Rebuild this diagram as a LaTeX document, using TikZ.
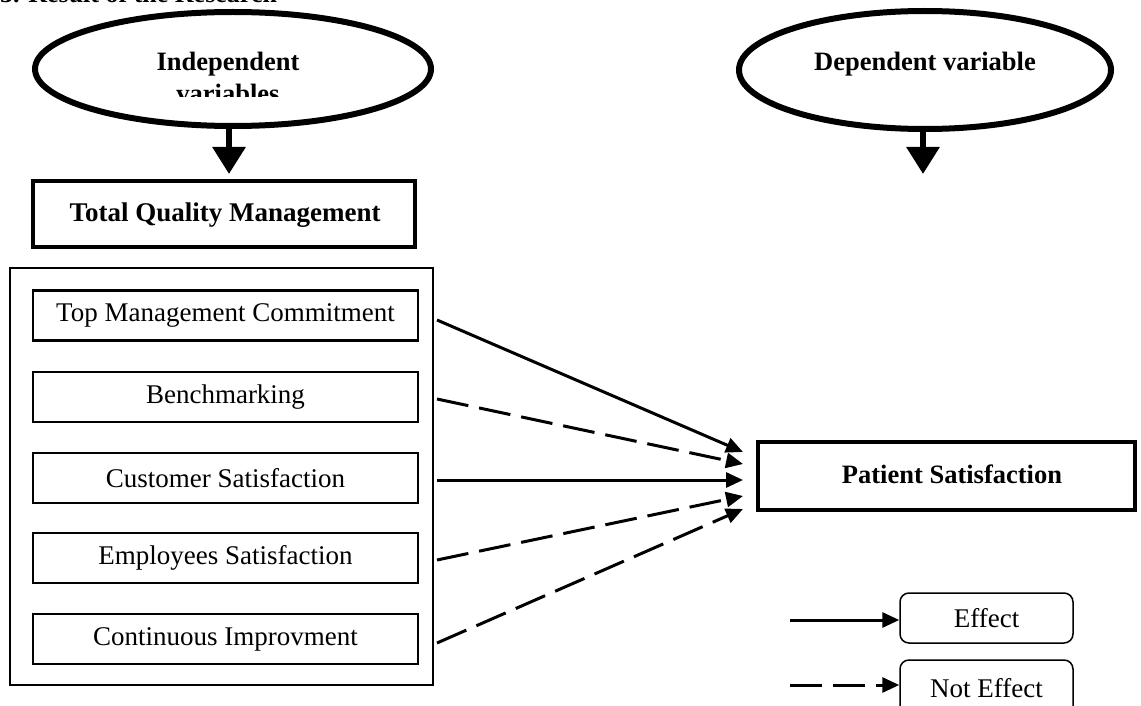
\documentclass[tikz,border=0pt]{standalone}
\usepackage{fontspec}
\setmainfont{Liberation Serif}
\usetikzlibrary{arrows.meta}
\begin{document}
\begin{tikzpicture}[x=1pt,y=-1pt,
  item/.style={draw,line width=2.5pt,minimum width=385pt,minimum height=50pt,inner sep=0pt,font=\fontsize{27}{30}\selectfont},
  legbox/.style={draw,line width=1.5pt,rounded corners=9pt,minimum width=173pt,inner sep=0pt,font=\fontsize{27}{30}\selectfont},
  conn/.style={line width=3pt,-{Triangle[length=17pt,width=15pt]}},
  dashconn/.style={conn,dash pattern=on 32pt off 11pt},
  bigdown/.style={line width=6pt,-{Triangle[length=27pt,width=32pt]},shorten >=-2pt},
  hd/.style={font=\bfseries\fontsize{26.5}{30}\selectfont}
]
\useasboundingbox (0,0) rectangle (1141,706);
\clip (0,0) rectangle (1141,706);
% cut-off title
\node[anchor=base west,inner sep=0pt,font=\bfseries\fontsize{26}{28}\selectfont] (title) at (0,2.5) {3. Result of the Research};
% ellipses
\draw[line width=6pt] (233,69) ellipse [x radius=198pt,y radius=57pt];
\node[hd,anchor=base] (indtxt) at (228,71) {Independent};
\begin{scope}
\clip (100,80) rectangle (360,97);
\node[hd,anchor=base] (vartxt) at (228,103) {variables};
\end{scope}
\draw[line width=6pt] (925,70) ellipse [x radius=186pt,y radius=59pt];
\node[hd,anchor=base] (deptxt) at (925,71) {Dependent variable};
% down arrows
\coordinate (la0) at (229,127);
\coordinate (la1) at (229,172);
\draw[bigdown] (la0) -- (la1);
\coordinate (ra0) at (923,128);
\coordinate (ra1) at (923,172);
\draw[bigdown] (ra0) -- (ra1);
% TQM box
\draw[line width=3.5pt] (33,181) rectangle (415,247);
\node[anchor=base,font=\bfseries\fontsize{27}{30}\selectfont] (tqm) at (225,221) {Total Quality Management};
% outer box
\draw[line width=1.5pt] (10,268) rectangle (433,685);
% items
\node[item] (b1) at (225.5,315.5) {Top Management Commitment};
\node[item] (b2) at (225.5,397) {Benchmarking};
\node[item] (b3) at (225.5,478) {Customer Satisfaction};
\node[item] (b4) at (225.5,558) {Employees Satisfaction};
\node[item] (b5) at (225.5,639) {Continuous Improvment};
% patient
\draw[line width=4pt] (758,442) rectangle (1135,510);
\node[hd,anchor=base] (ps) at (952,483) {Patient Satisfaction};
% start / end coordinates
\coordinate (s1) at (437,320);
\coordinate (s2) at (437,399);
\coordinate (s3) at (437,480);
\coordinate (s4) at (437,560);
\coordinate (s5) at (437,643);
\coordinate (e1) at (743,452);
\coordinate (e2) at (743,464);
\coordinate (e3) at (743,480);
\coordinate (e4) at (743,496);
\coordinate (e5) at (743,509);
\draw[conn] (s1) -- (e1);
\draw[dashconn] (s2) -- (e2);
\draw[conn] (s3) -- (e3);
\draw[dashconn] (s4) -- (e4);
\draw[dashconn] (s5) -- (e5);
% legend
\node[legbox,minimum height=50pt] (eff) at (986.5,618) {Effect};
\node[legbox,minimum height=56pt] (neff) at (986.5,688) {Not Effect};
\coordinate (l1a) at (790,620);
\draw[conn] (l1a) -- (eff.west |- l1a);
\coordinate (l2a) at (790,685);
\draw[dashconn] (l2a) -- (neff.west |- l2a);
\end{tikzpicture}
\end{document}
